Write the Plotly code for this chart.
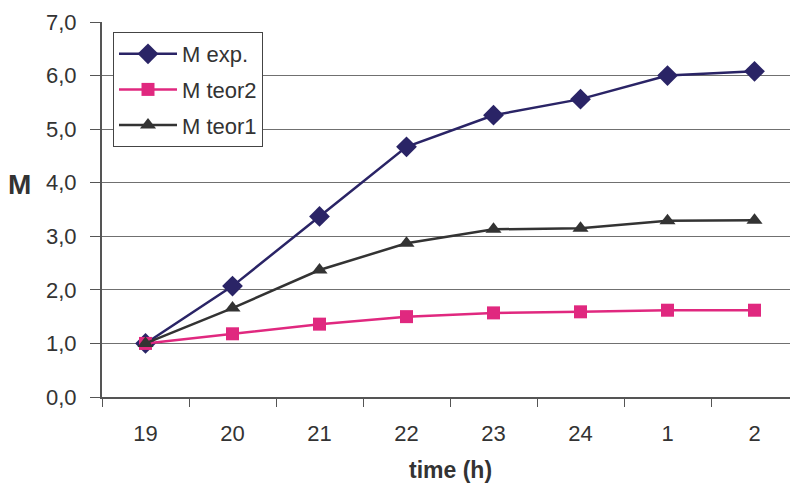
import plotly.graph_objects as go

# Sampling times (hours, clock time across midnight)
time_labels = ["19", "20", "21", "22", "23", "24", "1", "2"]

m_exp = [1.0, 2.07, 3.37, 4.67, 5.26, 5.56, 6.00, 6.08]
m_teor2 = [1.0, 1.18, 1.36, 1.50, 1.57, 1.59, 1.62, 1.62]
m_teor1 = [1.0, 1.66, 2.37, 2.87, 3.13, 3.15, 3.29, 3.30]

series = [
    ("M exp.", m_exp, "#2a2466", "diamond", 16),
    ("M teor2", m_teor2, "#e0287f", "square", 13),
    ("M teor1", m_teor1, "#333333", "triangle-up", 14),
]

fig = go.Figure()
for i, (name, vals, color, symbol, size) in enumerate(series):
    fig.add_trace(go.Scatter(
        x=time_labels, y=vals, name=name, mode="lines+markers",
        legendgroup=f"g{i}",
        line=dict(color=color, width=2.5),
        marker=dict(symbol=symbol, size=size, color=color),
    ))

W, H = 790, 489
ml, mr, mt, mb = 102, 0, 22, 92
pw = W - ml - mr
ph = H - mt - mb
slot = 87.0  # px per category

def px_x(x):
    return (x - ml) / pw

def px_y(y):
    return (H - mb - y) / ph

fig.update_layout(
    width=W, height=H,
    margin=dict(l=ml, r=mr, t=mt, b=mb),
    paper_bgcolor="white", plot_bgcolor="white",
    separators=",.",
    font=dict(family="Liberation Sans, Arial, sans-serif", color="#333333", size=22),
    showlegend=True,
    legend=dict(
        x=px_x(113), y=px_y(32), xanchor="left", yanchor="top",
        bgcolor="white", bordercolor="#444444", borderwidth=1,
        font=dict(size=22, color="#333333"),
        tracegroupgap=4, itemwidth=58,
    ),
    xaxis=dict(
        type="category",
        range=[-0.5, -0.5 + pw / slot],
        showline=True, linecolor="#555555", linewidth=2,
        ticks="outside", tickson="boundaries", ticklen=8, tickcolor="#555555",
        showgrid=False, ticklabelstandoff=16,
        tickfont=dict(size=22),
        fixedrange=True,
    ),
    yaxis=dict(
        range=[0, 7], dtick=1, tickformat=".1f",
        showline=True, linecolor="#555555", linewidth=2,
        ticks="outside", ticklen=10, tickcolor="#555555",
        showgrid=True, gridcolor="#707070", gridwidth=1.2,
        zeroline=False, ticklabelstandoff=9,
        tickfont=dict(size=22),
        fixedrange=True,
    ),
    annotations=[
        dict(text="<b>M</b>", xref="paper", yref="paper",
             x=px_x(19), y=px_y(184), xanchor="center", yanchor="middle",
             showarrow=False, font=dict(size=28, color="#333333")),
        dict(text="<b>time (h)</b>", xref="paper", yref="paper",
             x=px_x(450), y=px_y(470), xanchor="center", yanchor="middle",
             showarrow=False, font=dict(size=23, color="#333333")),
    ],
)

fig.write_html("out.html")
